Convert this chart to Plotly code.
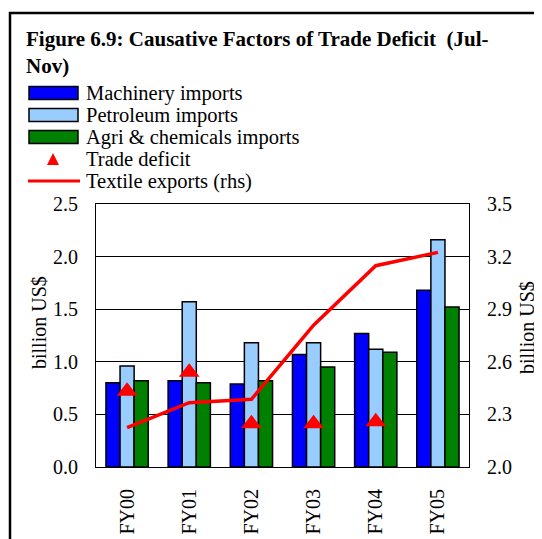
import plotly.graph_objects as go

categories = ["FY00", "FY01", "FY02", "FY03", "FY04", "FY05"]
machinery = [0.80, 0.82, 0.79, 1.07, 1.27, 1.68]
petroleum = [0.96, 1.57, 1.18, 1.18, 1.12, 2.16]
agri_chem = [0.82, 0.80, 0.82, 0.95, 1.09, 1.52]
deficit_cats = ["FY00", "FY01", "FY02", "FY03", "FY04"]
trade_deficit = [0.72, 0.90, 0.41, 0.41, 0.43]
textile_exports = [2.225, 2.367, 2.386, 2.809, 3.148, 3.224]

W, H = 542, 539
OFF = 8  # page offset of the figure inside the browser window
# plot area in window pixels: x 96..469, y 204..467
L, T = 96 - OFF, 204 - OFF
PW, PH = 373, 263
R, B = W - L - PW, H - T - PH
FONT = "Liberation Serif, Times New Roman, serif"


def px(x):
    # window pixel x -> paper coordinate
    return (x - OFF - L) / PW


def py(y):
    # window pixel y -> paper coordinate
    return (T + PH - (y - OFF)) / PH


fig = go.Figure()
fig.add_trace(go.Bar(x=categories, y=machinery, name="Machinery imports",
                     marker=dict(color="#0000FF", line=dict(color="black", width=1.5))))
fig.add_trace(go.Bar(x=categories, y=petroleum, name="Petroleum imports",
                     marker=dict(color="#99CCFF", line=dict(color="black", width=1.5))))
fig.add_trace(go.Bar(x=categories, y=agri_chem, name="Agri & chemicals imports",
                     marker=dict(color="#008000", line=dict(color="black", width=1.5))))
fig.add_trace(go.Scatter(x=categories, y=textile_exports, name="Textile exports (rhs)",
                         mode="lines", yaxis="y2", line=dict(color="#FF0000", width=3.5)))
fig.add_trace(go.Scatter(x=deficit_cats, y=trade_deficit, name="Trade deficit",
                         mode="markers", marker=dict(symbol="triangle-up", size=18, color="#FF0000")))

axis_common = dict(
    showline=True, linecolor="black", linewidth=1,
    ticks="outside", ticklen=13, tickcolor="rgba(0,0,0,0)",
    tickfont=dict(family=FONT, size=20, color="black"),
    zeroline=False,
)

fig.update_layout(
    width=W, height=H,
    margin=dict(l=L, r=R, t=T, b=B),
    paper_bgcolor="white", plot_bgcolor="white",
    showlegend=False,
    barmode="group", bargap=0.32, bargroupgap=0,
    font=dict(family=FONT, color="black"),
    xaxis=dict(**axis_common, mirror=True, tickangle=-90, type="category"),
    yaxis=dict(**axis_common, mirror=True, range=[0, 2.5], dtick=0.5, tick0=0,
               tickformat=".1f", showgrid=True, gridcolor="black", gridwidth=1),
    yaxis2=dict(**axis_common, overlaying="y", side="right", range=[2.0, 3.5],
                tick0=2.0, dtick=0.3, tickformat=".1f", showgrid=False),
)

shapes = []
annotations = []

# outer frame
shapes.append(dict(type="rect", xref="paper", yref="paper",
                   x0=px(10), x1=px(570), y0=py(570), y1=py(13),
                   line=dict(color="black", width=2.5), fillcolor="rgba(0,0,0,0)", layer="below"))

# title
annotations.append(dict(
    xref="paper", yref="paper", x=px(24), y=py(25), xanchor="left", yanchor="top",
    text="<b>Figure 6.9: Causative Factors of Trade Deficit  (Jul-</b><br><b>Nov)</b>",
    align="left", showarrow=False, font=dict(family=FONT, size=21, color="black")))

# legend (drawn manually to match the reference's wide swatches)
legend_items = [
    ("bar", "#0000FF", "Machinery imports", 93),
    ("bar", "#99CCFF", "Petroleum imports", 115),
    ("bar", "#008000", "Agri & chemicals imports", 137),
    ("tri", "#FF0000", "Trade deficit", 159),
    ("line", "#FF0000", "Textile exports (rhs)", 181),
]
for kind, col, label, yc in legend_items:
    if kind == "bar":
        shapes.append(dict(type="rect", xref="paper", yref="paper",
                           x0=px(29), x1=px(78), y0=py(yc + 6.5), y1=py(yc - 6.5),
                           line=dict(color="black", width=1.5), fillcolor=col))
    elif kind == "tri":
        shapes.append(dict(type="path", xref="paper", yref="paper",
                           path=f"M {px(47)} {py(yc + 6)} L {px(59)} {py(yc + 6)} L {px(53)} {py(yc - 6)} Z",
                           line=dict(color=col, width=0), fillcolor=col))
    else:
        shapes.append(dict(type="line", xref="paper", yref="paper",
                           x0=px(28), x1=px(80), y0=py(yc), y1=py(yc),
                           line=dict(color=col, width=3)))
    annotations.append(dict(xref="paper", yref="paper", x=px(84), y=py(yc),
                            xanchor="left", yanchor="middle", text=label, showarrow=False,
                            font=dict(family=FONT, size=20.5, color="black")))

# axis titles
annotations.append(dict(xref="paper", yref="paper", x=px(39), y=py(323), text="billion US$",
                        textangle=-90, showarrow=False, xanchor="center", yanchor="middle",
                        font=dict(family=FONT, size=20, color="black")))
annotations.append(dict(xref="paper", yref="paper", x=px(527), y=py(328), text="billion US$",
                        textangle=-90, showarrow=False, xanchor="center", yanchor="middle",
                        font=dict(family=FONT, size=20, color="black")))

fig.update_layout(shapes=shapes, annotations=annotations)
fig.write_html("out.html")
